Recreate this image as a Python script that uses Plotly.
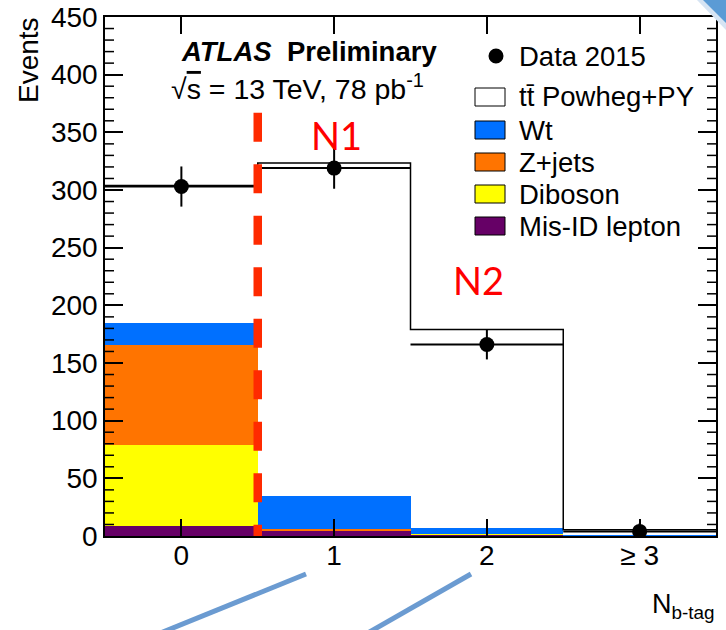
import numpy as np
import plotly.graph_objects as go

# ---------------- data ----------------
categories = ["0", "1", "2", "≥ 3"]
bin_centers = [0, 1, 2, 3]
misid = [8.5, 4.5, 1.7, 0.3]
diboson = [70.5, 0.5, 0.1, 0.0]
zjets = [86.5, 1.5, 0.3, 0.0]
wt = [19.5, 28.5, 5.1, 1.0]
ttbar = [119.0, 288.5, 171.8, 4.2]
data = [303, 319, 166, 4]
data_err = [17.4, 17.9, 12.9, 7]

stack = [
    ("Mis-ID lepton", misid, "#660066"),
    ("Diboson", diboson, "#ffff00"),
    ("Z+jets", zjets, "#ff7400"),
    ("Wt", wt, "#0070ff"),
    ("tt̄ Powheg+PY", ttbar, "#ffffff"),
]

Y_MAX = 450
Y_MAJOR = 50
Y_MINOR = 10
X_RANGE = [-0.5, 3.5]

# ---------------- geometry helpers (pixel -> paper) ----------------
W, H = 726, 630
PL, PR, PT, PB = 105, 716, 17, 536
def px(x):
    return (x - PL) / (PR - PL)
def py(y):
    return (PB - y) / (PB - PT)

FONT = "Liberation Sans, Arial, Helvetica, sans-serif"

fig = go.Figure()

for name, vals, col in stack:
    fig.add_trace(go.Bar(x=bin_centers, y=vals, width=1, name=name,
                         marker=dict(color=col, line=dict(width=0)),
                         showlegend=False, hoverinfo="skip"))

total = np.sum([s[1] for s in stack], axis=0)
edges = [c - 0.5 for c in bin_centers] + [bin_centers[-1] + 0.5]
fig.add_trace(go.Scatter(x=edges, y=list(total) + [total[-1]], mode="lines",
                         line=dict(color="black", width=1.5, shape="hv"),
                         showlegend=False, hoverinfo="skip"))

fig.add_trace(go.Scatter(
    x=bin_centers, y=data, mode="markers",
    marker=dict(color="black", size=15),
    error_x=dict(type="constant", value=0.5, width=0, thickness=2, color="black"),
    error_y=dict(type="data", array=data_err, width=0, thickness=2, color="black"),
    showlegend=False, hoverinfo="skip"))

# minor ticks on left and right y axes (ROOT style), drawn as a line trace
units_per_px = (X_RANGE[1] - X_RANGE[0]) / (PR - PL)
mlen = 9 * units_per_px
mx, my = [], []
for v in range(0, Y_MAX + 1, Y_MINOR):
    if v % Y_MAJOR == 0:
        continue
    mx += [X_RANGE[0], X_RANGE[0] + mlen, None, X_RANGE[1] - mlen, X_RANGE[1], None]
    my += [v, v, None, v, v, None]
fig.add_trace(go.Scatter(x=mx, y=my, mode="lines", line=dict(color="black", width=1.5),
                         showlegend=False, hoverinfo="skip", connectgaps=False))

shapes = []
# red dashed separator between bin 0 and bin 1
shapes.append(dict(type="line", xref="x", yref="y", x0=0.5, x1=0.5, y0=367, y1=0,
                   line=dict(color="#ff2a00", width=8.5, dash="29px,22.5px"), layer="above"))

# legend (manual)
LFS = 27.5
shapes.append(dict(type="circle", xref="paper", yref="paper",
                   x0=px(488.5), x1=px(503.5), y0=py(63.5), y1=py(48.5),
                   fillcolor="black", line=dict(color="black", width=0)))
legend_rows = [("tt̄ Powheg+PY", "#ffffff", 97), ("Wt", "#0070ff", 130),
               ("Z+jets", "#ff7400", 162), ("Diboson", "#ffff00", 194),
               ("Mis-ID lepton", "#660066", 226)]
annotations = []
for lab, col, yc in legend_rows:
    shapes.append(dict(type="rect", xref="paper", yref="paper",
                       x0=px(475), x1=px(505), y0=py(yc + 9), y1=py(yc - 9),
                       fillcolor=col, line=dict(color="black", width=1)))
    annotations.append(dict(x=px(517), y=py(yc), xref="paper", yref="paper",
                            text=lab, showarrow=False, xanchor="left", yanchor="middle",
                            font=dict(family=FONT, size=LFS, color="black")))
annotations.append(dict(x=px(517), y=py(56), xref="paper", yref="paper",
                        text="Data 2015", showarrow=False, xanchor="left", yanchor="middle",
                        font=dict(family=FONT, size=LFS, color="black")))

# ATLAS labels
annotations.append(dict(x=px(179), y=py(52), xref="paper", yref="paper",
                        text="<b><i>ATLAS</i></b>  <b>Preliminary</b>", showarrow=False,
                        xanchor="left", yanchor="middle",
                        font=dict(family=FONT, size=27.5, color="black")))
annotations.append(dict(x=px(169), y=py(87), xref="paper", yref="paper",
                        text="√<span style='text-decoration:overline'>s</span> = 13 TeV, 78 pb<sup>-1</sup>",
                        showarrow=False, xanchor="left", yanchor="middle",
                        font=dict(family=FONT, size=28.5, color="black")))

# N1 / N2 slide labels
annotations.append(dict(x=px(336), y=py(135), xref="paper", yref="paper", text="N1",
                        showarrow=False, xanchor="center", yanchor="middle",
                        font=dict(family="Lato, Open Sans, sans-serif", size=38, color="#ff0000")))
annotations.append(dict(x=px(478), y=py(280), xref="paper", yref="paper", text="N2",
                        showarrow=False, xanchor="center", yanchor="middle",
                        font=dict(family="Lato, Open Sans, sans-serif", size=38, color="#ff0000")))

# axis titles
annotations.append(dict(x=px(29), y=py(60), xref="paper", yref="paper", text="Events",
                        showarrow=False, textangle=-90, xanchor="center", yanchor="middle",
                        font=dict(family=FONT, size=28, color="black")))
annotations.append(dict(x=px(717), y=py(606), xref="paper", yref="paper",
                        text="N<sub>b-tag</sub>", showarrow=False, xanchor="right",
                        yanchor="middle", font=dict(family=FONT, size=27, color="black")))

# slide decorations: blue lines and corner
for (xa, ya, xb, yb) in [(306, 574, 158, 634), (471, 574, 366, 634)]:
    shapes.append(dict(type="line", xref="paper", yref="paper",
                       x0=px(xa), y0=py(ya), x1=px(xb), y1=py(yb),
                       line=dict(color="#6b9bd1", width=5)))
shapes.append(dict(type="path", xref="paper", yref="paper",
                   path=f"M {px(697)},{py(0)} L {px(726)},{py(0)} L {px(726)},{py(30)} Z",
                   fillcolor="#d6e4f3", line=dict(width=0)))
shapes.append(dict(type="path", xref="paper", yref="paper",
                   path=f"M {px(703)},{py(0)} L {px(726)},{py(0)} L {px(726)},{py(23)} Z",
                   fillcolor="#5b9bd5", line=dict(width=0)))

fig.update_layout(
    width=W, height=H,
    margin=dict(l=PL, r=W - PR, t=PT, b=H - PB, pad=0),
    paper_bgcolor="white", plot_bgcolor="white",
    barmode="stack", bargap=0,
    shapes=shapes, annotations=annotations,
    font=dict(family=FONT, color="black"),
    xaxis=dict(range=X_RANGE, tickvals=bin_centers, ticktext=categories,
               automargin=False,
               ticks="inside", ticklen=17, tickwidth=1.5, tickcolor="black",
               showline=True, linecolor="black", linewidth=1.5, mirror="ticks",
               showgrid=False, zeroline=False, ticklabelstandoff=-6,
               tickfont=dict(family=FONT, size=28, color="black")),
    yaxis=dict(range=[0, Y_MAX], tickmode="linear", tick0=0, dtick=Y_MAJOR,
               automargin=False,
               ticks="inside", ticklen=18, tickwidth=1.5, tickcolor="black",
               showline=True, linecolor="black", linewidth=1.5, mirror="ticks",
               showgrid=False, zeroline=False, ticklabelstandoff=0,
               tickfont=dict(family=FONT, size=28, color="black")),
)

fig.write_html("out.html")
